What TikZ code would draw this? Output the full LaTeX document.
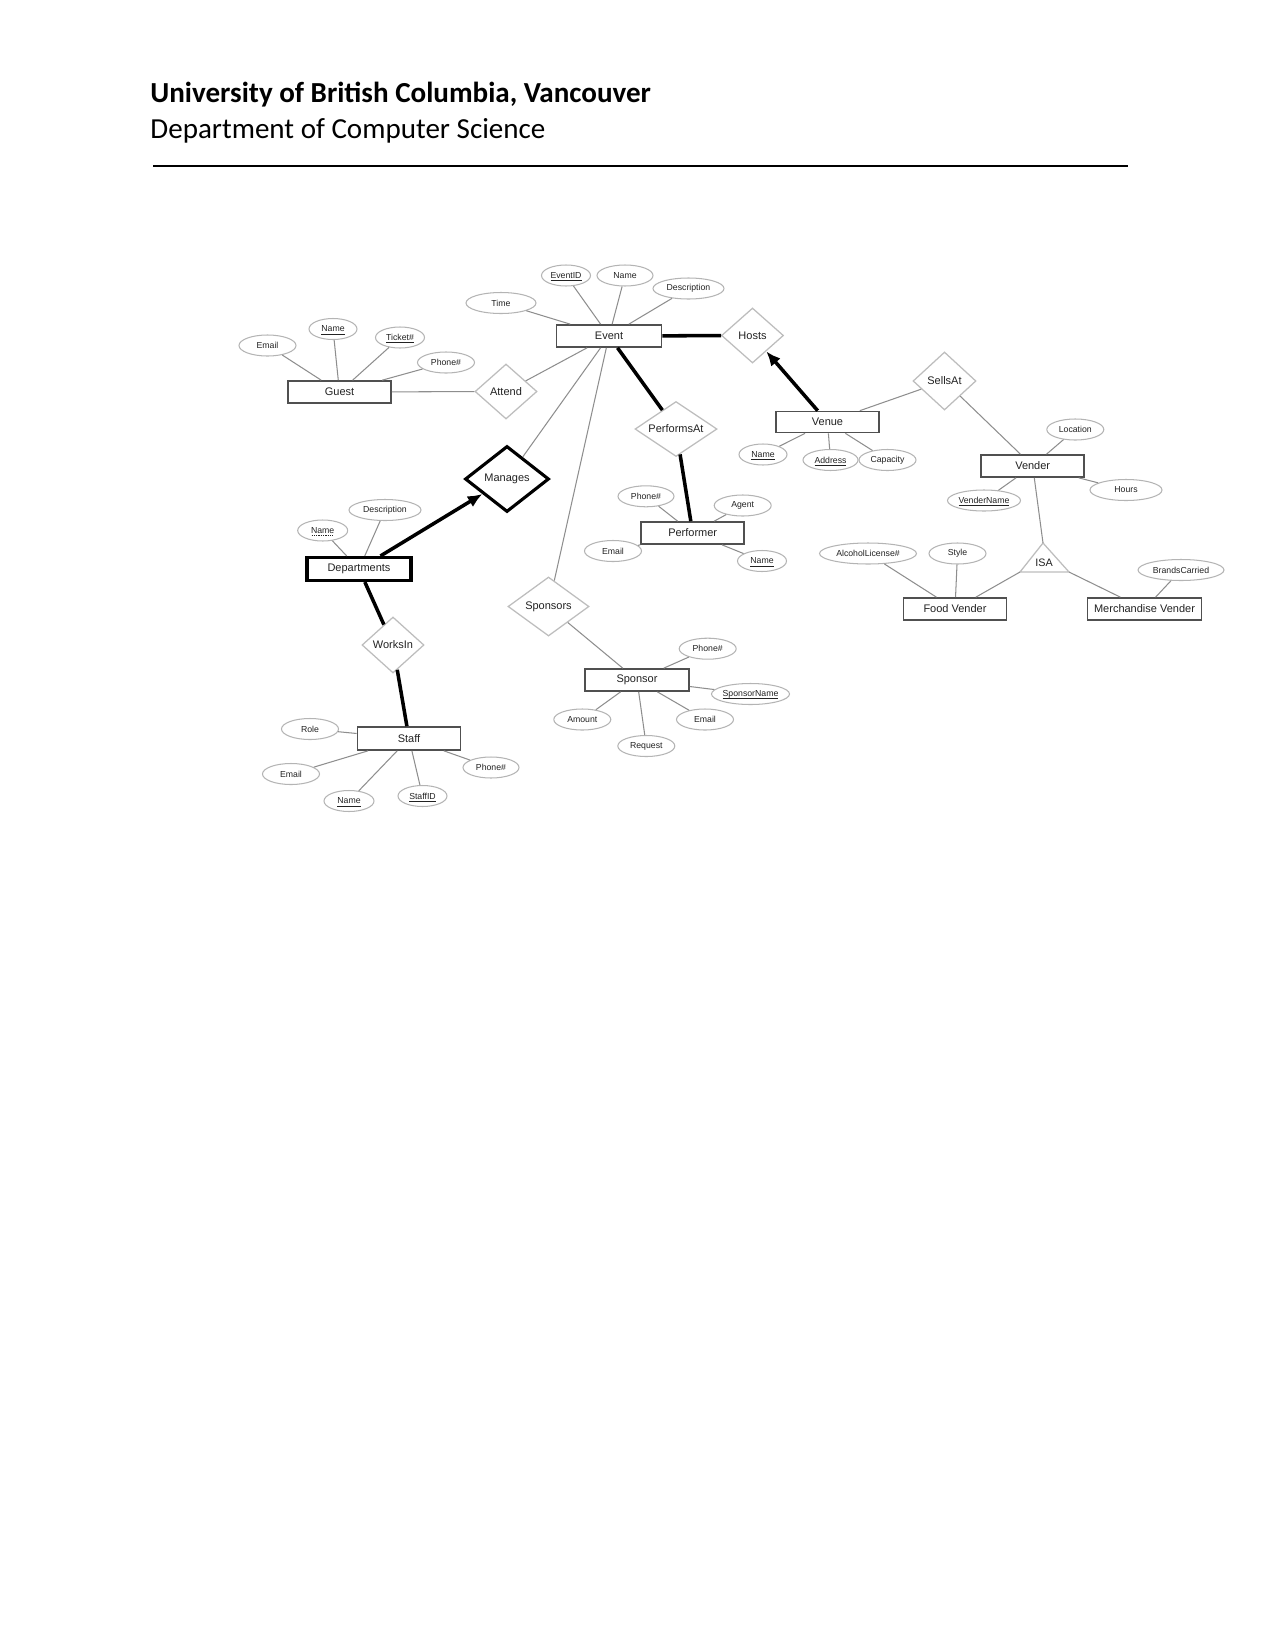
\documentclass[tikz,border=0pt]{standalone}
\usepackage{fontspec}
\setmainfont{Liberation Sans}
\newfontfamily\hdrfont{Carlito}
\usetikzlibrary{shapes.geometric,arrows.meta}
\newdimen\pxu \pxu=0.48bp
\newcommand{\zt}[1]{\makebox[0pt]{#1}}
\newcommand{\dul}[1]{\setbox0\hbox{#1}\rlap{\smash{\raisebox{-1.1pt}{\hbox to \wd0{\leaders\hbox to 1.1pt{\hss\rule{0.6pt}{0.3pt}\hss}\hfill}}}}\box0}
\newcommand{\sul}[1]{\setbox0\hbox{#1}\rlap{\smash{\raisebox{-1.1pt}{\rule{\wd0}{0.35pt}}}}\box0}
\definecolor{ellc}{HTML}{B4B4B4}
\definecolor{relc}{HTML}{BDBDBD}
\definecolor{linec}{HTML}{8E8E8E}
\definecolor{entc}{HTML}{505050}
\definecolor{txtc}{HTML}{222222}
\begin{document}
\begin{tikzpicture}[x=0.48bp,y=-0.48bp,
  ent/.style={draw=entc, line width=0.8pt, rectangle, minimum width=103*\pxu, minimum height=22*\pxu, inner sep=0pt, font=\fontsize{5.3}{6}\selectfont, text=txtc},
  wkent/.style={ent, draw=black, line width=1.5pt},
  attr/.style={draw=ellc, line width=0.5pt, ellipse, minimum height=21*\pxu, inner sep=0pt, font=\fontsize{4.2}{5}\selectfont, text=txtc},
  rel/.style={draw=relc, line width=0.6pt, diamond, inner sep=0pt, font=\fontsize{5.3}{6}\selectfont, text=txtc},
  wkrel/.style={rel, draw=black, line width=1.5pt},
  conn/.style={draw=linec, line width=0.5pt},
  tconn/.style={draw=black, line width=1.7pt},
  arr/.style={tconn, -{Latex[length=7pt,width=6pt]}},
]
\fill[white] (0,0) rectangle (1275,1650);
\useasboundingbox (0,0) rectangle (1275,1650);

% header
\node[anchor=base west, inner sep=0pt, font=\hdrfont\bfseries\fontsize{14}{17}\selectfont] (title) at (150,102) {University of British Columbia, Vancouver};
\node[anchor=base west, inner sep=0pt, font=\hdrfont\fontsize{14}{17}\selectfont] (subtitle) at (150,138) {Department of Computer Science};
\coordinate (ruleL) at (153,166);
\coordinate (ruleR) at (1128,166);
\draw[line width=1pt] (ruleL) -- (ruleR);

% entities
\node[ent, minimum width=105*\pxu] (event) at (609,336) {Event};
\node[ent] (guest) at (339.5,392) {Guest};
\node[ent, minimum height=21*\pxu] (venue) at (827.5,422) {Venue};
\node[ent] (vender) at (1032.7,466) {Vender};
\node[ent] (food) at (955,609) {Food Vender};
\node[ent, minimum width=114*\pxu] (merch) at (1144.5,609) {Merchandise Vender};
\node[wkent, minimum width=104*\pxu, minimum height=23*\pxu] (dept) at (359,569) {Departments};
\node[ent, minimum height=23*\pxu] (staff) at (409,738.5) {Staff};
\node[ent] (performer) at (692.7,533) {Performer};
\node[ent, minimum width=104*\pxu] (sponsor) at (637,680) {Sponsor};

% relationships
\node[rel, minimum width=62*\pxu, minimum height=55*\pxu] (hosts) at (752.5,335.5) {\zt{Hosts}};
\node[rel, minimum width=62*\pxu, minimum height=55*\pxu] (attend) at (506,391.5) {\zt{Attend}};
\node[rel, minimum width=82*\pxu, minimum height=55*\pxu] (performsat) at (676,429) {\zt{PerformsAt}};
\node[rel, minimum width=63*\pxu, minimum height=58*\pxu] (sellsat) at (944.5,381) {\zt{SellsAt}};
\node[wkrel, minimum width=84*\pxu, minimum height=66*\pxu] (manages) at (507,479) {\zt{Manages}};
\node[rel, minimum width=62*\pxu, minimum height=56*\pxu] (worksin) at (393,645) {\zt{WorksIn}};
\node[rel, minimum width=81*\pxu, minimum height=59*\pxu] (sponsors) at (548.5,606.5) {\zt{Sponsors}};

% ISA triangle
\coordinate (isaT) at (1043,543);
\coordinate (isaL) at (1020,572);
\coordinate (isaR) at (1069,572);
\draw[draw=relc, line width=0.6pt] (isaT) -- (isaL) -- (isaR) -- cycle;
\node[inner sep=0pt, font=\fontsize{5.2}{6}\selectfont, text=txtc] (isa) at (1044,563) {ISA};

% attributes: Event
\node[attr, minimum width=70*\pxu] (time) at (501,303) {\zt{Time}};
\node[attr, minimum width=49*\pxu] (eventid) at (566,275.5) {\zt{\sul{EventID}}};
\node[attr, minimum width=56*\pxu] (ename) at (625,275.5) {\zt{Name}};
\node[attr, minimum width=71*\pxu] (edesc) at (688.5,288.5) {\zt{Description}};
% Guest
\node[attr, minimum width=57*\pxu] (gemail) at (267.5,345.5) {\zt{Email}};
\node[attr, minimum width=48*\pxu] (gname) at (333,329) {\zt{\sul{Name}}};
\node[attr, minimum width=49*\pxu] (gticket) at (400,337.5) {\zt{\sul{Ticket\#}}};
\node[attr, minimum width=57*\pxu] (gphone) at (446,362.5) {\zt{Phone\#}};
% Venue
\node[attr, minimum width=48*\pxu] (vname) at (763,454.5) {\zt{\sul{Name}}};
\node[attr, minimum width=55*\pxu] (vaddr) at (830.5,460) {\zt{\sul{Address}}};
\node[attr, minimum width=57*\pxu] (vcap) at (887.5,460) {\zt{Capacity}};
% Vender
\node[attr, minimum width=57*\pxu] (vloc) at (1075.3,429.5) {\zt{Location}};
\node[attr, minimum width=72*\pxu] (vhours) at (1126,490) {\zt{Hours}};
\node[attr, minimum width=73*\pxu] (vendername) at (984,500.5) {\zt{\sul{VenderName}}};
% Food / Merch
\node[attr, minimum width=97*\pxu] (alc) at (868,553.5) {\zt{AlcoholLicense\#}};
\node[attr, minimum width=57*\pxu] (style) at (957.5,553.5) {\zt{Style}};
\node[attr, minimum width=86*\pxu] (brands) at (1181,570) {\zt{BrandsCarried}};
% Departments
\node[attr, minimum width=50*\pxu] (dname) at (322.7,530.5) {\zt{\dul{Name}}};
\node[attr, minimum width=72*\pxu] (ddesc) at (385,510) {\zt{Description}};
% Staff
\node[attr, minimum width=57*\pxu] (role) at (310,729) {\zt{Role}};
\node[attr, minimum width=57*\pxu] (semail) at (291,774) {\zt{Email}};
\node[attr, minimum width=50*\pxu] (sname) at (349,801) {\zt{\sul{Name}}};
\node[attr, minimum width=49*\pxu] (sid) at (422.5,796) {\zt{\sul{StaffID}}};
\node[attr, minimum width=56*\pxu] (sphone) at (491,767.5) {\zt{Phone\#}};
% Performer
\node[attr, minimum width=56*\pxu] (pphone) at (646,496.3) {\zt{Phone\#}};
\node[attr, minimum width=57*\pxu] (agent) at (742.7,505.5) {\zt{Agent}};
\node[attr, minimum width=57*\pxu] (pemail) at (613,551) {\zt{Email}};
\node[attr, minimum width=49*\pxu] (pname) at (762,561) {\zt{\sul{Name}}};
% Sponsor
\node[attr, minimum width=57*\pxu] (spphone) at (707.7,648.7) {\zt{Phone\#}};
\node[attr, minimum width=78*\pxu] (spname) at (750.5,694) {\zt{\sul{SponsorName}}};
\node[attr, minimum width=57*\pxu] (spemail) at (705,719.5) {\zt{Email}};
\node[attr, minimum width=57*\pxu] (request) at (646.3,746) {\zt{Request}};
\node[attr, minimum width=57*\pxu] (amount) at (582.3,719.5) {\zt{Amount}};

% thin connectors
\foreach \a/\b in {time/event, eventid/event, ename/event, edesc/event,
  gemail/guest, gname/guest, gticket/guest, gphone/guest,
  vname/venue, vaddr/venue, vcap/venue,
  vloc/vender, vhours/vender, vendername/vender,
  alc/food, style/food, brands/merch,
  dname/dept, ddesc/dept,
  role/staff, semail/staff, sname/staff, sid/staff, sphone/staff,
  pphone/performer, agent/performer, pemail/performer, pname/performer,
  spphone/sponsor, spname/sponsor, spemail/sponsor, request/sponsor, amount/sponsor,
  guest/attend, event/attend, event/manages, event/sponsors, sponsors/sponsor,
  venue/sellsat, sellsat/vender, vender/isaT, isaL/food, isaR/merch}
  \draw[conn] (\a) -- (\b);

% thick connectors
\draw[tconn] (event) -- (hosts);
\draw[tconn] (event) -- (performsat);
\draw[tconn] (performsat) -- (performer);
\draw[tconn] (dept) -- (worksin);
\draw[tconn] (worksin) -- (staff);
\draw[arr] (venue) -- (hosts);
\draw[arr] (dept) -- (manages);
\end{tikzpicture}
\end{document}
